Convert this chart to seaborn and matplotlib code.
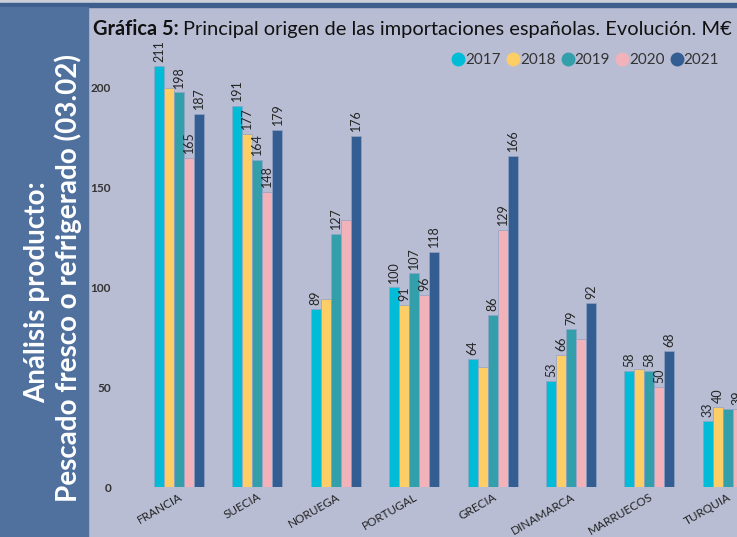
import numpy as np
import pandas as pd
import matplotlib
matplotlib.use("Agg")
import matplotlib.pyplot as plt
from matplotlib.patches import Rectangle
from matplotlib.lines import Line2D
import seaborn as sns

# ---------------- data ----------------
countries = ["FRANCIA", "SUECIA", "NORUEGA", "PORTUGAL", "GRECIA", "DINAMARCA", "MARRUECOS", "TURQUIA"]
years = ["2017", "2018", "2019", "2020", "2021"]
v2017 = [211, 191, 89, 100, 64, 53, 58, 33]
v2018 = [200, 177, 94, 91, 60, 66, 59, 40]
v2019 = [198, 164, 127, 107, 86, 79, 58, 39]
v2020 = [165, 148, 134, 96, 129, 74, 50, 39]
v2021 = [187, 179, 176, 118, 166, 92, 68, np.nan]
# labels hidden in the original (overlapping): (country index, year)
hidden = [(0, "2018"), (2, "2018"), (2, "2020"), (4, "2018"), (5, "2020"), (6, "2018"), (7, "2019")]

colors = ["#00BCD6", "#FDCD66", "#339FAB", "#F1B3B9", "#345E92"]

series = {"2017": v2017, "2018": v2018, "2019": v2019, "2020": v2020, "2021": v2021}
rows = []
for y in years:
    for c, v in zip(countries, series[y]):
        rows.append({"country": c, "year": y, "value": v})
df = pd.DataFrame(rows)

# ---------------- figure ----------------
W, H = 737, 537
fig = plt.figure(figsize=(W / 100, H / 100), dpi=100)
BG = "#B8BDD3"
fig.patch.set_facecolor(BG)

def fx(px):
    return px / W

def fy(py):
    return 1 - py / H

fig.add_artist(Rectangle((0, fy(3)), 1, 3 / H, transform=fig.transFigure, color="#CBCFDA", zorder=0))
fig.add_artist(Rectangle((0, fy(7)), 1, 4 / H, transform=fig.transFigure, color="#3E5E8E", zorder=0))
fig.add_artist(Rectangle((0, 0), fx(88), fy(7), transform=fig.transFigure, color="#50709E", zorder=0))

sns.set_style("white")
plt.rcParams["font.family"] = ["Lato", "DejaVu Sans"]

# sidebar texts
fig.text(fx(37), fy(292), "Análisis producto:", rotation=90, ha="center", va="center",
         color="white", fontsize=20, fontweight="bold")
fig.text(fx(68), fy(278), "Pescado fresco o refrigerado (03.02)", rotation=90, ha="center", va="center",
         color="white", fontsize=20, fontweight="bold")

# title
t1 = fig.text(fx(93), fy(29), "Gráfica 5:", ha="left", va="center", fontsize=14.4,
              fontweight="bold", color="#111111")
fig.canvas.draw()
bb = t1.get_window_extent(renderer=fig.canvas.get_renderer())
fig.text(bb.x1 / W + fx(4), fy(29), "Principal origen de las importaciones españolas. Evolución. M€",
         ha="left", va="center", fontsize=14.4, color="#111111")

# axes
ax = fig.add_axes([fx(118), fy(487), 1 - fx(118), (487 - 48) / H])
ax.set_facecolor("none")
sns.barplot(data=df, x="country", y="value", hue="year", hue_order=years, order=countries,
            palette=colors, width=0.64, ax=ax, legend=False, saturation=1,
            edgecolor="#8FA3C6", linewidth=0.5)
ax.set_ylim(0, 220)
ax.set_xlim(-(179 - 118) / 78.4, (737 - 179) / 78.4)
for s in ax.spines.values():
    s.set_visible(False)
ax.set_xlabel("")
ax.set_ylabel("")
ax.set_yticks([0, 50, 100, 150, 200])
ax.tick_params(axis="y", length=0, pad=5, labelsize=8.5, labelcolor="#333333")
for lab in ax.get_yticklabels():
    lab.set_fontweight("bold")
ax.tick_params(axis="x", length=0, pad=3, labelsize=8.5, labelcolor="#222222")
plt.setp(ax.get_xticklabels(), rotation=30, ha="right", rotation_mode="anchor")

# data labels
for yi, cont in enumerate(ax.containers):
    year = years[yi]
    for bar in cont:
        h = bar.get_height()
        if not np.isfinite(h) or h == 0:
            continue
        ci = int(round(bar.get_x() + bar.get_width() / 2))
        if (ci, year) in hidden:
            continue
        ax.text(bar.get_x() + bar.get_width() / 2, h + 2.2, f"{int(round(h))}", rotation=90,
                ha="center", va="bottom", fontsize=9, color="#252525", clip_on=False)

# legend
handles = [Line2D([], [], marker="o", linestyle="", markersize=9, markerfacecolor=c,
                  markeredgecolor=c) for c in colors]
fig.legend(handles, years, loc="center left", bbox_to_anchor=(fx(453), fy(60)), ncol=5,
           frameon=False, handlelength=0.7, handletextpad=0.1, columnspacing=0.45,
           fontsize=11, labelcolor="#333333", borderaxespad=0, borderpad=0)

fig.savefig("out.png", dpi=100, facecolor=fig.get_facecolor())
